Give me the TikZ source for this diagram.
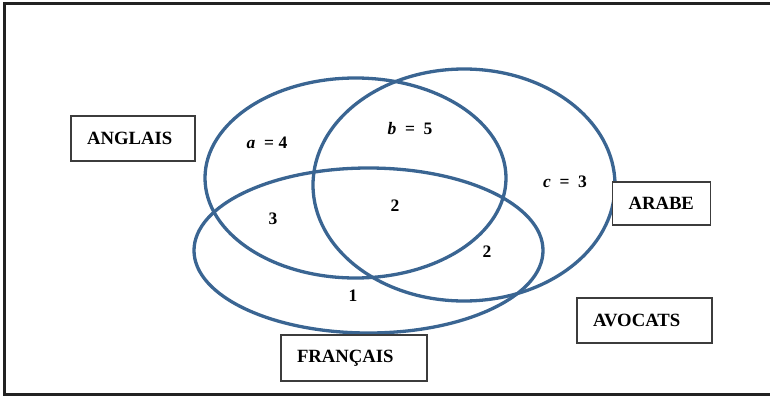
\documentclass[tikz,border=0pt]{standalone}
\usepackage{fontspec}
\setmainfont{Liberation Serif}
\usetikzlibrary{shapes.geometric}

\definecolor{vennblue}{RGB}{58,101,146}
\definecolor{boxgray}{RGB}{60,60,60}
\definecolor{framegray}{RGB}{34,34,34}

\begin{document}
\begin{tikzpicture}[
  x=1pt, y=-1pt,
  set/.style={draw=vennblue, ellipse, line width=3.3pt, inner sep=0pt},
  tag/.style={draw=boxgray, fill=white, line width=1.4pt, align=left, inner xsep=16pt, inner ysep=0pt, font=\fontsize{18.7}{20}\selectfont\bfseries},
  count/.style={font=\fontsize{17.5}{19}\selectfont\bfseries}
]
\useasboundingbox (0,0) rectangle (770,396);
\draw[line width=3pt, framegray] (770,3.5) -| (4.5,394) -- (770,394);
% the three sets
\node[set, minimum width=301pt, minimum height=200pt] (anglais) at (355.5,178) {};
\node[set, minimum width=302pt, minimum height=232pt] (arabe) at (464,185) {};
\node[set, minimum width=349pt, minimum height=165pt] (francais) at (368.5,250.5) {};
% labels
\node[tag, text width=92pt, minimum height=45pt] (anglaistag) at (133,138.5) {ANGLAIS};
\node[tag, text width=66pt, minimum height=43pt] (arabetag) at (661.5,203.5) {ARABE};
\node[tag, text width=103pt, minimum height=45pt] (avocatstag) at (644.5,320.5) {AVOCATS};
\node[tag, text width=114pt, minimum height=46pt] (francaistag) at (354,358) {FRANÇAIS};
% counts
\node[count] (na) at (267,143) {\textit{a}\enspace= 4};
\node[count] (nb) at (410,129) {\textit{b}\enspace=\enspace5};
\node[count] (nc) at (565,182) {\textit{c}\enspace=\enspace3};
\node[count] (nab) at (395,206) {2};
\node[count] (naf) at (273,219) {3};
\node[count] (nbf) at (487,252) {2};
\node[count] (nf) at (353,296) {1};
\end{tikzpicture}
\end{document}
